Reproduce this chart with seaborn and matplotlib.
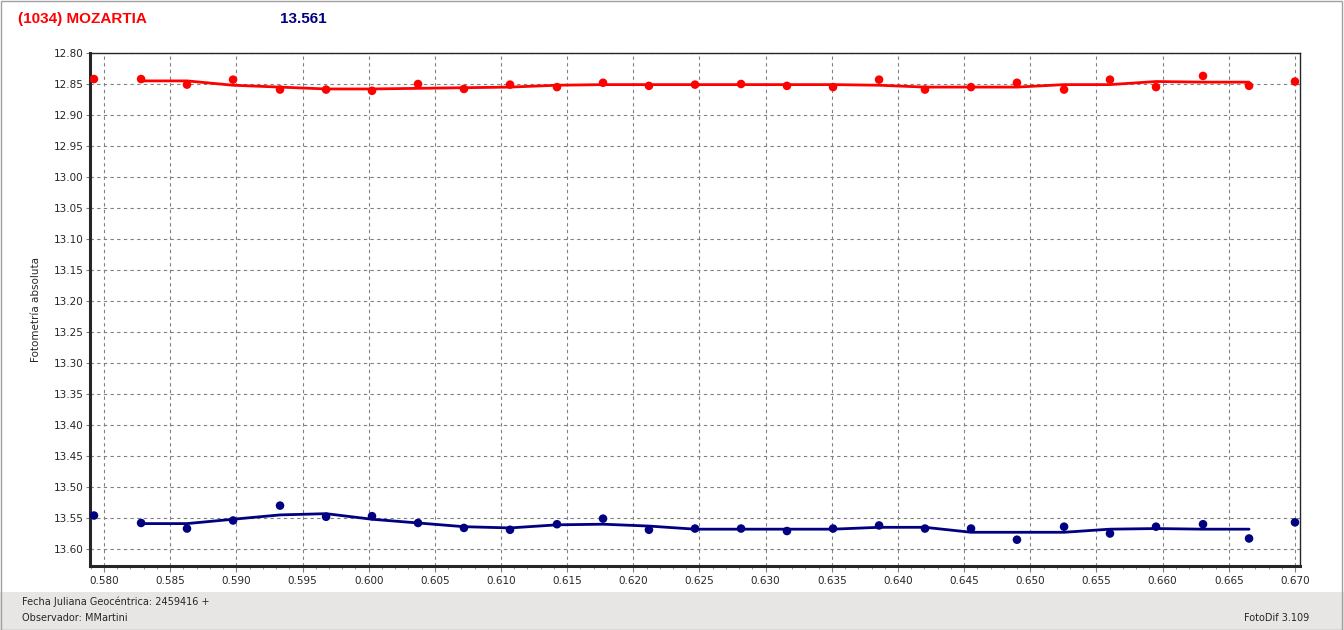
import pandas as pd
import seaborn as sns
import matplotlib.pyplot as plt
from matplotlib.ticker import MultipleLocator, FormatStrFormatter
from matplotlib.patches import Rectangle

# Data
jd = [0.57924, 0.58280, 0.58627, 0.58975, 0.59330, 0.59678, 0.60025, 0.60373, 0.60720,
      0.61068, 0.61423, 0.61771, 0.62118, 0.62466, 0.62814, 0.63161, 0.63509, 0.63857,
      0.64204, 0.64552, 0.64899, 0.65255, 0.65602, 0.65950, 0.66305, 0.66653, 0.67000]

mag_asteroid = [12.842, 12.842, 12.851, 12.843, 12.859, 12.859, 12.861, 12.850, 12.858,
                12.851, 12.855, 12.848, 12.853, 12.851, 12.850, 12.853, 12.855, 12.843,
                12.859, 12.855, 12.848, 12.859, 12.843, 12.855, 12.837, 12.853, 12.846]

fit_asteroid = [12.845, 12.845, 12.852, 12.855, 12.858, 12.858, 12.857, 12.856, 12.855,
                12.852, 12.851, 12.851, 12.851, 12.851, 12.851, 12.851, 12.852, 12.855,
                12.855, 12.855, 12.851, 12.851, 12.846, 12.847, 12.847]

mag_ref = [13.546, 13.558, 13.567, 13.554, 13.530, 13.548, 13.547, 13.558, 13.566,
           13.569, 13.560, 13.551, 13.569, 13.567, 13.567, 13.571, 13.567, 13.562,
           13.567, 13.567, 13.585, 13.564, 13.575, 13.564, 13.560, 13.583, 13.557]

fit_ref = [13.559, 13.559, 13.552, 13.545, 13.543, 13.552, 13.558, 13.564, 13.566,
           13.561, 13.560, 13.563, 13.568, 13.568, 13.568, 13.568, 13.565, 13.565,
           13.573, 13.573, 13.573, 13.568, 13.567, 13.568, 13.568]

pts = pd.DataFrame({'jd': jd, 'ast': mag_asteroid, 'ref': mag_ref})
fit = pd.DataFrame({'jd': jd[1:26], 'ast': fit_asteroid, 'ref': fit_ref})

RED = '#ff0000'
NAVY = '#000080'

sns.set_style("ticks")
plt.rcParams['font.family'] = ['Liberation Sans', 'DejaVu Sans']

fig = plt.figure(figsize=(13.44, 6.30), dpi=100)
fig.patch.set_facecolor('white')

# footer band and window frame
fig.patches.append(Rectangle((0, 0), 1, 38 / 630, transform=fig.transFigure,
                             facecolor='#e8e6e4', edgecolor='none', zorder=0))
fig.patches.append(Rectangle((0.5 / 1344, 0.5 / 630), 1 - 3 / 1344, 1 - 1.5 / 630,
                             transform=fig.transFigure, facecolor='none',
                             edgecolor='#a0a0a0', lw=1, zorder=5))

ax = fig.add_axes([90 / 1344, 1 - 566 / 630, 1210 / 1344, 513 / 630])

sns.lineplot(data=fit, x='jd', y='ast', ax=ax, color=RED, lw=2, zorder=3)
sns.lineplot(data=fit, x='jd', y='ref', ax=ax, color=NAVY, lw=2, zorder=3)
sns.scatterplot(data=pts, x='jd', y='ast', ax=ax, color=RED, s=38, edgecolor='none', zorder=4)
sns.scatterplot(data=pts, x='jd', y='ref', ax=ax, color=NAVY, s=38, edgecolor='none', zorder=4)

ax.set_xlim(0.57894, 0.67038)
ax.set_ylim(13.6274, 12.80)
ax.xaxis.set_major_locator(MultipleLocator(0.005))
ax.xaxis.set_minor_locator(MultipleLocator(0.001))
ax.xaxis.set_major_formatter(FormatStrFormatter('%.3f'))
ax.yaxis.set_major_locator(MultipleLocator(0.05))
ax.yaxis.set_major_formatter(FormatStrFormatter('%.2f'))
ax.grid(False, which='minor')
ax.grid(True, which='major', ls=(0, (3, 3)), color='#808080', lw=0.8)
ax.tick_params(axis='x', which='major', labelsize=7.5, length=4, color='#808080')
ax.tick_params(axis='y', which='major', labelsize=7.5, length=3, pad=1.5, color='#808080')
ax.tick_params(axis='x', which='minor', length=2.5, color='#808080')
for lab in ax.get_xticklabels() + ax.get_yticklabels():
    lab.set_family(['DejaVu Sans'])
ax.set_xlabel('')
ax.set_ylabel('Fotometría absoluta', fontsize=7.5, labelpad=9, family=['DejaVu Sans'])
for side in ['left', 'bottom']:
    ax.spines[side].set_linewidth(2.2)
for side in ['top', 'right']:
    ax.spines[side].set_linewidth(1)
    ax.spines[side].set_visible(True)

fig.text(18 / 1344, 1 - 19 / 630, '(1034) MOZARTIA', color=RED, fontsize=11,
         fontweight='bold', va='center')
fig.text(280 / 1344, 1 - 19 / 630, '13.561', color=NAVY, fontsize=11,
         fontweight='bold', va='center')
fig.text(22 / 1344, 1 - 602 / 630, 'Fecha Juliana Geocéntrica: 2459416 +', fontsize=7,
         va='center', family=['DejaVu Sans'])
fig.text(22 / 1344, 1 - 618 / 630, 'Observador: MMartini', fontsize=7, va='center',
         family=['DejaVu Sans'])
fig.text(1309 / 1344, 1 - 618 / 630, 'FotoDif 3.109', fontsize=7, va='center',
         ha='right', family=['DejaVu Sans'])

fig.savefig('out.png', dpi=100)
